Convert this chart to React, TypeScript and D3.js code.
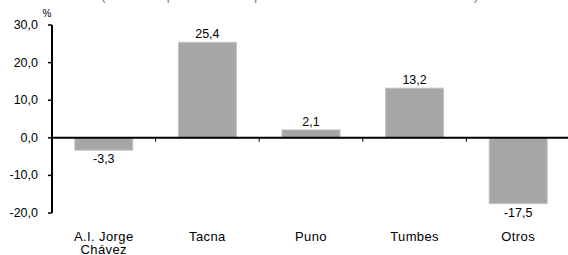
import React from "react";
import * as d3 from "d3";

const categories = ["A.I. Jorge Chávez", "Tacna", "Puno", "Tumbes", "Otros"];
const categoryLines = [["A.I. Jorge", "Chávez"], ["Tacna"], ["Puno"], ["Tumbes"], ["Otros"]];
const values = [-3.3, 25.4, 2.1, 13.2, -17.5];
const yTicks = [-20, -10, 0, 10, 20, 30];
const title = "(Variación porcentual respecto a similar mes del año anterior)";

const W = 568;
const H = 255;
const fmt = (v: number) => d3.format(".1f")(v).replace(".", ",").replace("−", "-");

export default function App() {
  const x = d3.scaleBand<string>().domain(categories).range([52, 570]).paddingInner(0.44).paddingOuter(0.22);
  const y = d3.scaleLinear().domain([-20, 30]).range([213, 25]);
  const step = x.step();
  const font = "'Liberation Sans', Arial, sans-serif";
  return (
    <svg width={W} height={H} style={{ position: "absolute", left: 0, top: 0 }} fontFamily={font}>
      <text x={290} y={-0.5} textAnchor="middle" fontSize={12.5} fill="#777" letterSpacing={0.6}>{title}</text>
      {/* bars */}
      {categories.map((c, i) => {
        const v = values[i];
        const y0 = y(0), y1 = y(v);
        return (
          <g key={c}>
            <rect x={x(c)!} y={Math.min(y0, y1)} width={x.bandwidth()} height={Math.abs(y1 - y0)}
              fill="#a6a6a6" stroke="#c4c4c4" strokeWidth={1} />
            <text x={x(c)! + x.bandwidth() / 2} y={v >= 0 ? y1 - 4 : y1 + 13} textAnchor="middle" fontSize={12.5} fill="#000">{fmt(v)}</text>
          </g>
        );
      })}
      {/* y axis */}
      <line x1={52} x2={52} y1={y(30)} y2={y(-20)} stroke="#000" strokeWidth={2} />
      {yTicks.map(t => (
        <g key={t}>
          <line x1={48} x2={52} y1={y(t)} y2={y(t)} stroke="#000" strokeWidth={1.5} />
          <text x={38} y={y(t) + 4} textAnchor="end" fontSize={12.5} fill="#000">{fmt(t)}</text>
        </g>
      ))}
      <text x={47} y={17} textAnchor="middle" fontSize={10} fill="#000">%</text>
      {/* zero line */}
      <line x1={52} x2={W} y1={y(0)} y2={y(0)} stroke="#000" strokeWidth={2} />
      {categories.slice(1).map((c, i) => (
        <line key={c} x1={52 + step * (i + 1)} x2={52 + step * (i + 1)} y1={y(0)} y2={y(0) + 4} stroke="#000" strokeWidth={1} />
      ))}
      {/* category labels */}
      {categories.map((c, i) => (
        <text key={c} x={x(c)! + x.bandwidth() / 2} y={241} textAnchor="middle" fontSize={13} fill="#000" letterSpacing={0.4}>
          {categoryLines[i].map((l, j) => (
            <tspan key={j} x={x(c)! + x.bandwidth() / 2} dy={j === 0 ? 0 : 12.5}>{l}</tspan>
          ))}
        </text>
      ))}
    </svg>
  );
}
